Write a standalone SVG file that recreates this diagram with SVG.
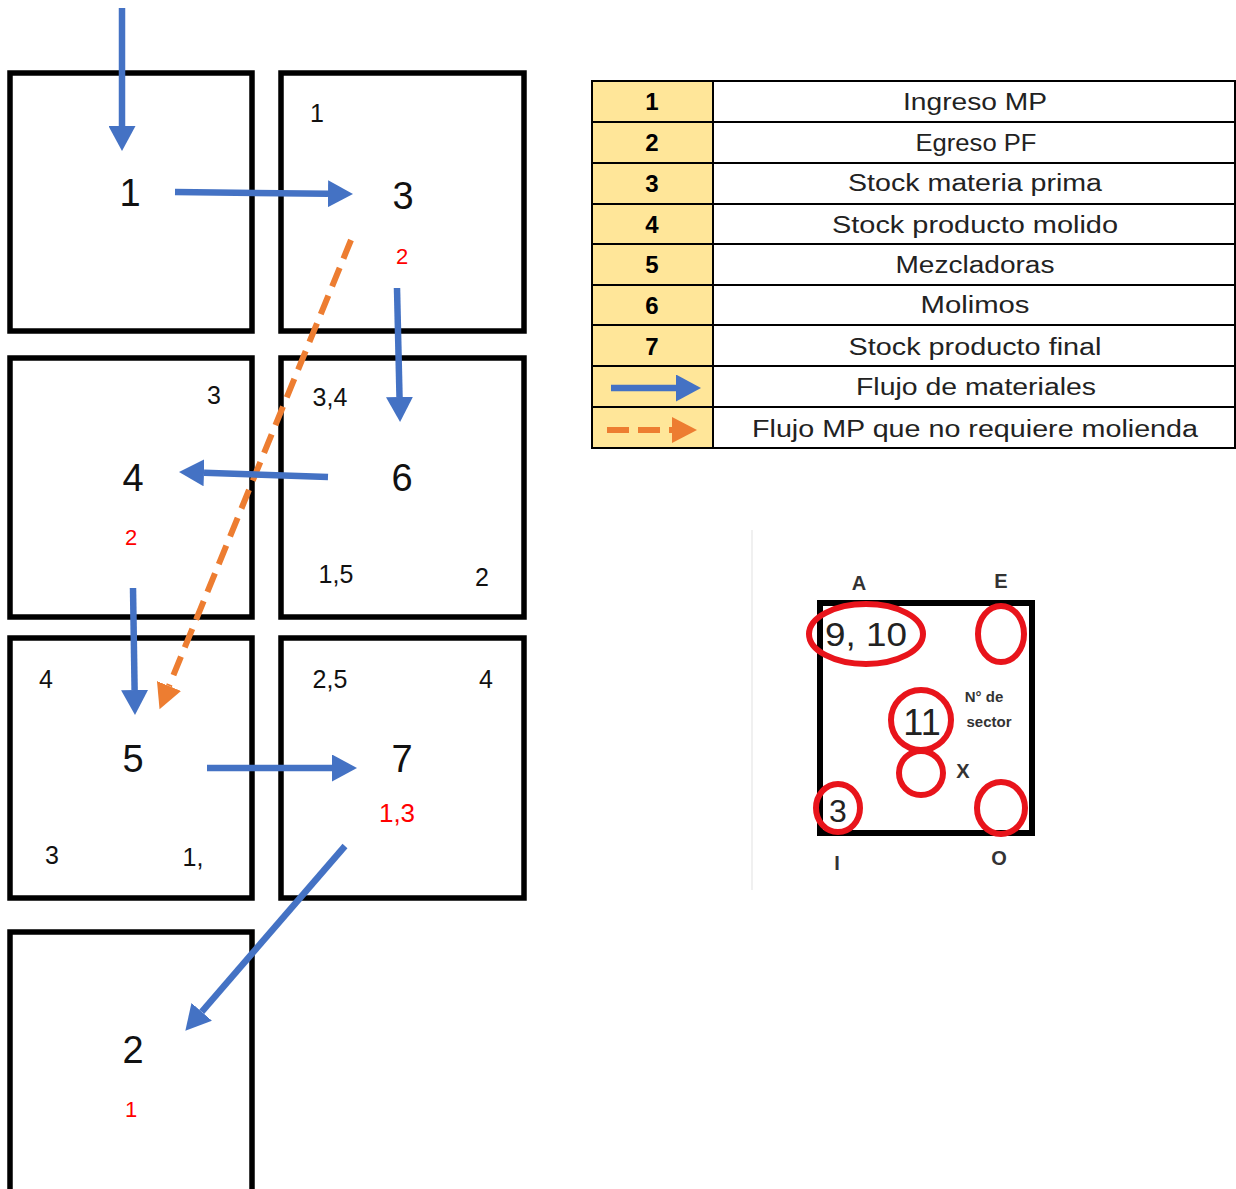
<svg xmlns="http://www.w3.org/2000/svg" width="1236" height="1189" viewBox="0 0 1236 1189">
<style>
.box{fill:none;stroke:#000;stroke-width:5.5}
.big{font-family:"Liberation Sans",Arial,sans-serif;font-size:38px;fill:#111;text-anchor:middle}
.sm{font-family:"Liberation Sans",Arial,sans-serif;font-size:25px;fill:#111;text-anchor:middle}
.red{font-family:"Liberation Sans",Arial,sans-serif;font-size:22px;fill:#f00;text-anchor:middle}
.blue{stroke:#4472C4;stroke-width:6.5;fill:none;marker-end:url(#hb)}
.orange{stroke:#ED7D31;stroke-width:6;fill:none;stroke-dasharray:20 10;marker-end:url(#ho)}
.cell{fill:#fff;stroke:#000;stroke-width:2}
.key{fill:#FFE699;stroke:#000;stroke-width:2}
.num{font-family:"Liberation Sans",Arial,sans-serif;font-size:24px;font-weight:bold;fill:#000;text-anchor:middle}
.lt{font-family:"Liberation Sans",Arial,sans-serif;font-size:23px;fill:#222;text-anchor:middle}
.ring{fill:none;stroke:#E8141B;stroke-width:6}
.k{font-family:"Liberation Sans",Arial,sans-serif;fill:#222;text-anchor:middle}
.kb{font-family:"Liberation Sans",Arial,sans-serif;fill:#333;text-anchor:middle;font-weight:bold}
</style>
<defs>
<marker id="hb" markerUnits="userSpaceOnUse" markerWidth="27" markerHeight="27" refX="0" refY="13.5" orient="auto" viewBox="0 0 27 27"><path d="M0,0 L25,13.5 L0,27 z" fill="#4472C4"/></marker>
<marker id="ho" markerUnits="userSpaceOnUse" markerWidth="26" markerHeight="26" refX="0" refY="13" orient="auto" viewBox="0 0 26 26"><path d="M0,0 L25,13 L0,26 z" fill="#ED7D31"/></marker>
</defs>
<rect width="1236" height="1189" fill="#fff"/>

<g id="sector-1"><rect class="box" x="10" y="73" width="242" height="258"/><text class="big" x="130" y="206">1</text></g>
<g id="sector-3"><rect class="box" x="281" y="73" width="243" height="258"/><text class="big" x="403" y="209">3</text><text class="sm" x="317" y="122">1</text><text class="red" x="402" y="264">2</text></g>
<g id="sector-4"><rect class="box" x="10" y="358" width="242" height="259"/><text class="big" x="133" y="491">4</text><text class="sm" x="214" y="404">3</text><text class="red" x="131" y="545">2</text></g>
<g id="sector-6"><rect class="box" x="281" y="358" width="243" height="259"/><text class="big" x="402" y="491">6</text><text class="sm" x="330" y="406">3,4</text><text class="sm" x="336" y="583">1,5</text><text class="sm" x="482" y="586">2</text></g>
<g id="sector-5"><rect class="box" x="10" y="638" width="242" height="260"/><text class="big" x="133" y="772">5</text><text class="sm" x="46" y="688">4</text><text class="sm" x="52" y="864">3</text><text class="sm" x="193" y="866">1,</text></g>
<g id="sector-7"><rect class="box" x="281" y="638" width="243" height="260"/><text class="big" x="402" y="772">7</text><text class="sm" x="330" y="688">2,5</text><text class="sm" x="486" y="688">4</text><text class="red" x="397" y="822" style="font-size:26px">1,3</text></g>
<g id="sector-2"><rect class="box" x="10" y="932" width="242" height="262"/><text class="big" x="133" y="1063">2</text><text class="red" x="131" y="1117">1</text></g>

<g id="connectors">
<line class="blue" x1="122" y1="8" x2="122" y2="126"/>
<line class="blue" x1="175" y1="192" x2="328" y2="193.7"/>
<line class="orange" x1="351" y1="240" x2="169" y2="686"/>
<line class="blue" x1="397" y1="288" x2="399.5" y2="397"/>
<line class="blue" x1="328" y1="477" x2="204" y2="472.8"/>
<line class="blue" x1="133" y1="588" x2="134.6" y2="690"/>
<line class="blue" x1="207" y1="768" x2="332" y2="768"/>
<line class="blue" x1="345" y1="846" x2="201.7" y2="1011.8"/>
</g>

<g id="legend">
<rect class="key" x="592" y="81" width="121" height="367"/>
<rect class="cell" x="713" y="81" width="522" height="367"/>
<g stroke="#000" stroke-width="2">
<line x1="592" y1="122" x2="1235" y2="122"/><line x1="592" y1="163" x2="1235" y2="163"/><line x1="592" y1="204" x2="1235" y2="204"/><line x1="592" y1="244" x2="1235" y2="244"/><line x1="592" y1="285" x2="1235" y2="285"/><line x1="592" y1="325" x2="1235" y2="325"/><line x1="592" y1="366" x2="1235" y2="366"/><line x1="592" y1="407" x2="1235" y2="407"/>
</g>
<text class="num" x="652" y="110">1</text>
<text class="num" x="652" y="151">2</text>
<text class="num" x="652" y="192">3</text>
<text class="num" x="652" y="233">4</text>
<text class="num" x="652" y="273">5</text>
<text class="num" x="652" y="314">6</text>
<text class="num" x="652" y="355">7</text>
<text class="lt" x="975" y="110" textLength="144" lengthAdjust="spacingAndGlyphs">Ingreso MP</text>
<text class="lt" x="976" y="151" textLength="121" lengthAdjust="spacingAndGlyphs">Egreso PF</text>
<text class="lt" x="975" y="191" textLength="254" lengthAdjust="spacingAndGlyphs">Stock materia prima</text>
<text class="lt" x="975" y="233" textLength="286" lengthAdjust="spacingAndGlyphs">Stock producto molido</text>
<text class="lt" x="975" y="273" textLength="159" lengthAdjust="spacingAndGlyphs">Mezcladoras</text>
<text class="lt" x="975" y="313" textLength="109" lengthAdjust="spacingAndGlyphs">Molimos</text>
<text class="lt" x="975" y="355" textLength="253" lengthAdjust="spacingAndGlyphs">Stock producto final</text>
<text class="lt" x="976" y="395" textLength="240" lengthAdjust="spacingAndGlyphs">Flujo de materiales</text>
<text class="lt" x="975" y="437" textLength="446" lengthAdjust="spacingAndGlyphs">Flujo MP que no requiere molienda</text>
<line class="blue" x1="611" y1="388" x2="676" y2="388"/>
<line class="orange" x1="607" y1="430" x2="672" y2="430" style="stroke-dasharray:22 9"/>
</g>

<g id="key-diagram">
<line x1="752" y1="530" x2="752" y2="890" stroke="#f0f0f0" stroke-width="2"/>
<rect x="820" y="603" width="212" height="230" fill="none" stroke="#000" stroke-width="6"/>
<text class="kb" x="859" y="590" style="font-size:20px">A</text>
<text class="kb" x="1001" y="588" style="font-size:20px">E</text>
<text class="kb" x="837" y="870" style="font-size:20px">I</text>
<text class="kb" x="999" y="865" style="font-size:20px">O</text>
<text class="k" x="866" y="646" style="font-size:34px" textLength="82" lengthAdjust="spacingAndGlyphs">9, 10</text>
<text class="k" x="922" y="735" style="font-size:36px">11</text>
<text class="k" x="838" y="822" style="font-size:32px">3</text>
<text class="kb" x="984" y="702" style="font-size:15px">N° de</text>
<text class="kb" x="989" y="727" style="font-size:15px">sector</text>
<text class="kb" x="963" y="778" style="font-size:20px">X</text>
<ellipse class="ring" cx="866" cy="634" rx="57" ry="30"/>
<ellipse class="ring" cx="1001" cy="634" rx="23" ry="28"/>
<ellipse class="ring" cx="921" cy="720" rx="30" ry="30"/>
<ellipse class="ring" cx="921" cy="773" rx="22" ry="22"/>
<ellipse class="ring" cx="838" cy="808" rx="22" ry="24"/>
<ellipse class="ring" cx="1001" cy="808" rx="24" ry="26"/>
</g>
</svg>
